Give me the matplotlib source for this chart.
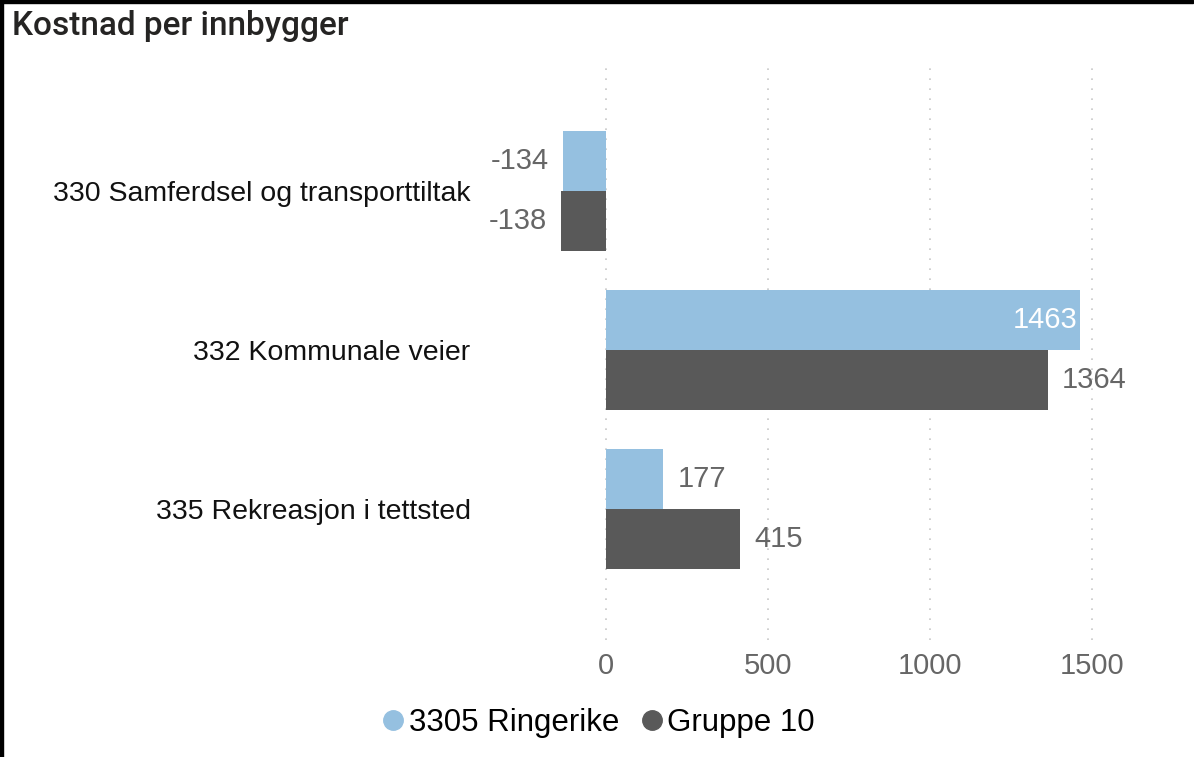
import matplotlib.pyplot as plt
from matplotlib.lines import Line2D
from matplotlib.patches import Rectangle

# Data: cost per inhabitant (NOK)
categories = ["330 Samferdsel og transporttiltak", "332 Kommunale veier", "335 Rekreasjon i tettsted"]
ringerike = [-134, 1463, 177]
gruppe10 = [-138, 1364, 415]
series_names = ["3305 Ringerike", "Gruppe 10"]
xticks = [0, 500, 1000, 1500]

light = "#95C0E0"
dark = "#595959"
label_grey = "#666666"

plt.rcParams["font.family"] = ["Liberation Sans", "DejaVu Sans"]

W, H = 1194, 757
fig = plt.figure(figsize=(W / 100, H / 100), dpi=100)

# plot area in pixel terms
left_px, right_px, top_px, bot_px = 540, 1141, 68, 640
ax = fig.add_axes([left_px / W, 1 - bot_px / H, (right_px - left_px) / W, (bot_px - top_px) / H])

px_per_unit = 162 / 500
xmin = (left_px - 606) / px_per_unit
xmax = (right_px - 606) / px_per_unit
ax.set_xlim(xmin, xmax)
ax.set_ylim(2.824, -0.774)

bh = 60 / 159
ys = range(len(categories))
ax.barh([y - bh / 2 for y in ys], ringerike, height=bh, color=light, zorder=2)
ax.barh([y + bh / 2 for y in ys], gruppe10, height=bh, color=dark, zorder=2)

# value labels
gap = 14 / px_per_unit
label_w = 70 / px_per_unit
for vals, off in ((ringerike, -bh / 2), (gruppe10, bh / 2)):
    for y, v in zip(ys, vals):
        yy = y + off
        if v < 0:
            ax.text(v - gap, yy, f"{v}", ha="right", va="center", fontsize=21, color=label_grey)
        elif v + gap + label_w > xmax:
            ax.text(v - 3 / px_per_unit, yy, f"{v}", ha="right", va="center", fontsize=21, color="white")
        else:
            ax.text(v + gap, yy, f"{v}", ha="left", va="center", fontsize=21, color=label_grey)

ax.set_yticks(list(ys))
ax.set_yticklabels(categories, fontsize=20.5, color="#111111")
ax.tick_params(axis="y", length=0, pad=50)
ax.set_xticks(xticks)
ax.set_xticklabels([str(t) for t in xticks], fontsize=21, color=label_grey)
ax.tick_params(axis="x", length=0, pad=9)
for s in ax.spines.values():
    s.set_visible(False)
ax.grid(axis="x", color="#C8C8C8", linestyle=(0, (1, 5)), linewidth=1.2, zorder=0)
ax.set_axisbelow(True)

fig.text(12 / W, 1 - 26 / H, "Kostnad per innbygger", fontsize=24, color="#252423",
         va="center", ha="left", family=["Roboto", "DejaVu Sans"], fontweight="medium")

handles = [Line2D([], [], marker="o", linestyle="none", markersize=14, color=c) for c in (light, dark)]
fig.legend(handles, series_names, loc="center", bbox_to_anchor=(0.5, 1 - 723 / H), ncol=2,
           frameon=False, fontsize=22.5, handletextpad=0.05, columnspacing=0.6, handlelength=0.9)

# frame on top and left edges
fig.patches.append(Rectangle((0, 0), 2.5 / W, 1, transform=fig.transFigure, color="black", zorder=10))
fig.patches.append(Rectangle((0, 1 - 3 / H), 1193 / W, 3 / H, transform=fig.transFigure, color="black", zorder=10))

fig.savefig("out.png", dpi=100, facecolor="white")
